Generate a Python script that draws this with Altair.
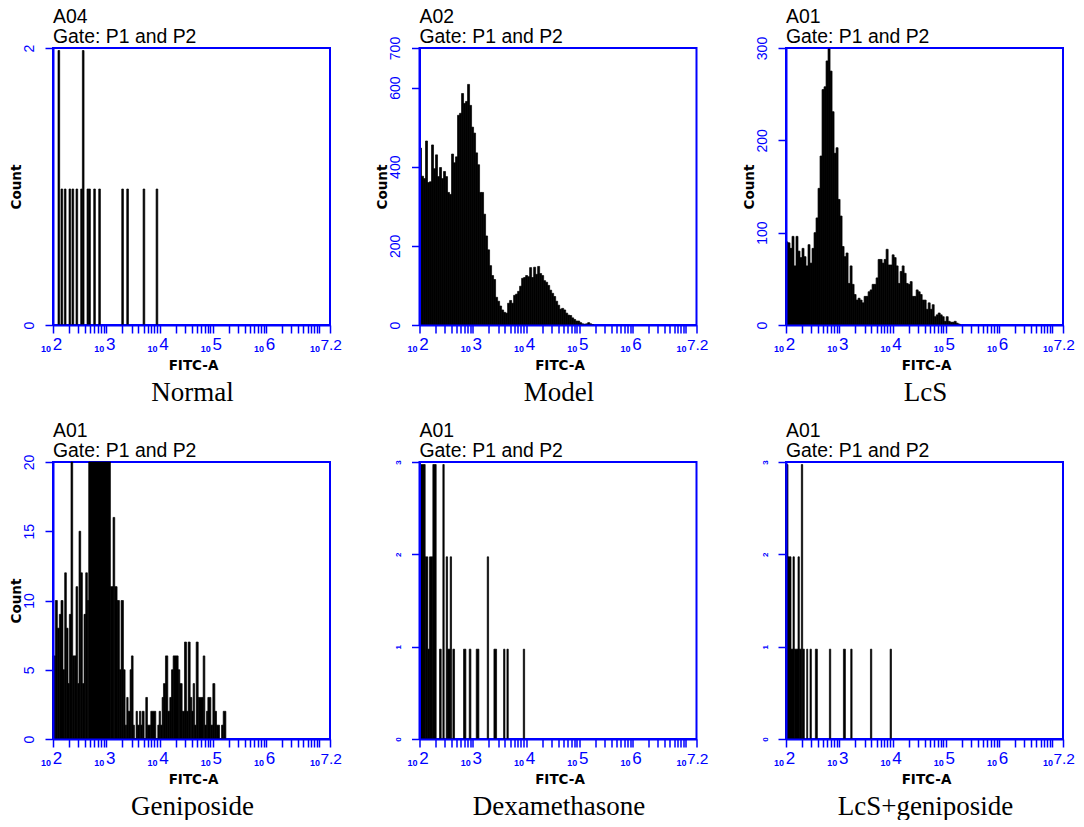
import altair as alt
import pandas as pd

BLUE = "#0000ff"
W = H = 277
SPAN = 830.0  # the channel scale the histograms were read on, 0..830 = 10^2..10^7.2

# Tick grid of the FITC-A axis
tick_mantissas = [1, 2, 3, 4, 5, 6, 7, 8, 9]
tick_decades = [2, 3, 4, 5, 6]
x_ticks = [m * 10 ** d for d in tick_decades for m in tick_mantissas] + [10 ** 7, 10 ** 7.2]
label_positions = [10 ** 2, 10 ** 3, 10 ** 4, 10 ** 5, 10 ** 6]
label_end = [10 ** 7.2]
label_end_text = ["7.2"]

# ---- Normal: (channel, count)
normal_ch = [15, 24, 34, 48, 57, 69, 83, 88, 102, 107, 122, 137, 206, 221, 270, 309]
normal_ct = [2, 1, 1, 1, 1, 1, 1, 2, 1, 1, 1, 1, 1, 1, 1, 1]

# ---- Model: consecutive bins, 6 channels wide
model_ct = [447, 376, 370, 465, 360, 362, 455, 395, 430, 375, 398, 370, 388, 375, 335, 330,
            432, 410, 425, 530, 535, 585, 560, 565, 608, 555, 500, 485, 435, 405, 335, 335,
            280, 225, 190, 150, 125, 115, 70, 60, 48, 38, 32, 30, 55, 62, 55, 75, 78, 85,
            98, 118, 120, 125, 122, 145, 120, 146, 128, 148, 130, 125, 112, 108, 100, 88,
            80, 72, 60, 50, 40, 42, 38, 30, 25, 24, 18, 14, 10, 10, 6, 3, 2, 3, 6, 3, 1]

# ---- LcS: consecutive bins, 6 channels wide
lcs_ct = [90, 89, 83, 96, 64, 96, 80, 73, 83, 74, 64, 87, 67, 83, 100, 116, 148, 183, 255,
          258, 286, 299, 275, 231, 186, 192, 136, 118, 85, 74, 78, 45, 64, 44, 33, 27, 29,
          27, 24, 31, 31, 36, 38, 44, 44, 51, 71, 71, 67, 71, 82, 65, 65, 76, 73, 64, 45,
          58, 64, 56, 45, 44, 47, 31, 31, 38, 36, 33, 27, 27, 17, 24, 17, 22, 9, 11, 13,
          11, 9, 4, 9, 4, 3, 3, 4, 2, 1]

# ---- Geniposide: bin start channels and counts
gen_ch = [0, 7, 13, 19, 24, 30, 35, 40, 45, 49, 54, 59, 65, 69, 74, 78, 83, 88, 93, 98, 103,
          107, 172, 180, 185, 192, 199, 204, 211, 216, 221, 225, 231, 235, 240, 244, 249,
          253, 259, 263, 267, 273, 278, 283, 293, 308, 314, 318, 322, 327, 331, 337, 344,
          350, 355, 360, 375, 380, 387, 394, 400, 405, 411, 416, 420, 424, 429, 435, 450,
          455, 460, 464, 473, 479, 485, 490, 499, 505, 510, 518]
gen_ct = [6, 10, 8, 9, 10, 5, 12, 8, 4, 9, 20, 6, 6, 11, 4, 15, 12, 4, 9, 12, 10,
          20, 11, 16, 11, 10, 5, 10, 5, 1, 3, 2, 5, 6, 1, 0, 2,
          1, 2, 1, 2, 0, 3, 1, 2, 0, 1, 2, 1, 3, 4, 6, 2,
          3, 5, 6, 5, 4, 2, 7, 2, 7, 3, 2, 4, 1, 7, 3, 6,
          1, 2, 3, 1, 4, 2, 1, 0, 1, 2, 0]

# ---- Dexamethasone: start, end, count
dex_start = [0, 17, 25, 30, 40, 60, 70, 80, 84, 92, 100, 132, 149, 170, 203, 223, 252, 262, 311]
dex_end = [17, 25, 30, 40, 50, 65, 74, 84, 92, 96, 105, 139, 154, 178, 207, 231, 256, 266, 315]
dex_ct = [3, 2, 1, 2, 3, 1, 3, 2, 1, 2, 1, 1, 1, 1, 2, 1, 1, 1, 1]

# ---- LcS+geniposide: start, end, count
combo_start = [0, 6, 15, 21, 25, 36, 40, 46, 50, 62, 72, 88, 130, 172, 194, 253, 312]
combo_end = [6, 15, 21, 25, 36, 40, 46, 50, 55, 65, 76, 94, 134, 178, 198, 257, 316]
combo_ct = [3, 2, 1, 2, 1, 2, 1, 3, 1, 1, 1, 1, 1, 1, 1, 1, 1]

wells = ["A04", "A02", "A01", "A01", "A01", "A01"]
gate = "Gate: P1 and P2"
captions = ["Normal", "Model", "LcS", "Geniposide", "Dexamethasone", "LcS+geniposide"]


def fitc(ch):
    return 10 ** (2 + 5.2 * ch / SPAN)


def table(start, end, count):
    return pd.DataFrame({
        "lo": [fitc(c) for c in start],
        "hi": [fitc(c) for c in end],
        "count": count,
        "zero": [0] * len(count),
    })


def panel(df, well, caption, y_max, y_ticks, sink=0.0, show_title=True, tiny=False):
    x_scale = alt.Scale(type="log", domain=[100, 10 ** 7.2], nice=False)
    y_scale = alt.Scale(domain=[0, y_max], nice=False)
    x_axis = alt.Axis(
        values=x_ticks, grid=False, zindex=1, title="FITC-A",
        titleX=W / 2 + 1.5, titleY=44, titleBaseline="alphabetic",
        titleFont="DejaVu Sans", titleFontSize=13.5, titleFontWeight="bold", titleColor="black",
        domainColor=BLUE, domainWidth=2, tickColor=BLUE, tickWidth=1.5, tickSize=8,
        labelColor=BLUE, labelFont="Liberation Sans", labelFontSize=17, labelPadding=3,
        labelOffset=4, labelFlush=False, labelOverlap=False, labelBound=False,
        labelExpr="(abs(log(datum.value)/LN10-round(log(datum.value)/LN10))<1e-6 && datum.value<5e6)"
                  " ? format(log(datum.value)/LN10,'d') : ''",
    )
    y_axis = alt.Axis(
        values=y_ticks, grid=False, zindex=1, format="d",
        title="Count" if show_title else None,
        titleX=-30, titleY=H / 2, titleAngle=-90, titleAlign="center",
        titleFont="DejaVu Sans", titleFontSize=13.5, titleFontWeight="bold", titleColor="black",
        domainColor=BLUE, domainWidth=2, tickColor=BLUE, tickWidth=1.5, tickSize=8,
        labelColor=BLUE, labelFont="Liberation Sans",
        labelFontSize=8 if tiny else 14, labelFontWeight="bold" if tiny else "normal",
        labelAngle=-90, labelPadding=9, labelOverlap=False, labelBound=False, labelFlush=False,
    )
    bars = alt.Chart(df).mark_rect(color="black", stroke="black", strokeWidth=0.7,
                                   yOffset=sink, y2Offset=0).encode(
        x=alt.X("lo:Q", scale=x_scale, axis=x_axis),
        x2="hi:Q",
        y=alt.Y("count:Q", scale=y_scale, axis=y_axis),
        y2="zero:Q",
    )

    def tick_text(positions, texts, dx, size, offset, weight="normal"):
        return alt.Chart(pd.DataFrame({"v": positions, "t": texts})).mark_text(
            color=BLUE, font="Liberation Sans", fontSize=size, fontWeight=weight, align="right", dx=dx,
            baseline="alphabetic",
        ).encode(x=alt.X("v:Q", scale=x_scale, axis=x_axis), y=alt.value(H + offset), text="t:N")

    tens = tick_text(label_positions, ["10"] * len(label_positions), -2, 9, 27, "bold")
    tens_last = tick_text(label_end, ["10"], -10, 9, 27, "bold")
    last = tick_text(label_end, label_end_text, 12, 15.5, 25)
    head = alt.Chart(pd.DataFrame({"t": [[well, gate]]})).mark_text(
        color="black", font="Liberation Sans", fontSize=19.4, align="left", baseline="alphabetic",
        lineHeight=20,
    ).encode(x=alt.value(0), y=alt.value(-25.5), text="t:N")
    cap = alt.Chart(pd.DataFrame({"t": [caption]})).mark_text(
        color="black", font="Liberation Serif", fontSize=27, align="center", baseline="alphabetic",
    ).encode(x=alt.value(W / 2 + 1), y=alt.value(H + 76), text="t:N")
    return alt.layer(bars, tens, tens_last, last, head, cap).properties(width=W, height=H)


def bins(counts):
    return table([i * 6 for i in range(len(counts))], [(i + 1) * 6 for i in range(len(counts))], counts)


charts = [
    panel(table(normal_ch, [c + 5 for c in normal_ch], normal_ct), wells[0], captions[0], 2, [0, 1, 2], sink=2.5),
    panel(bins(model_ct), wells[1], captions[1], 700, [0, 200, 400, 600, 700]),
    panel(bins(lcs_ct), wells[2], captions[2], 300, [0, 100, 200, 300]),
    panel(table(gen_ch[:-1], gen_ch[1:], gen_ct[:-1]), wells[3], captions[3], 20, [0, 5, 10, 15, 20]),
    panel(table(dex_start, dex_end, dex_ct), wells[4], captions[4], 3, [0, 1, 2, 3], sink=2.5,
          show_title=False, tiny=True),
    panel(table(combo_start, combo_end, combo_ct), wells[5], captions[5], 3, [0, 1, 2, 3], sink=2.5,
          show_title=False, tiny=True),
]

chart = alt.concat(*charts, columns=3, spacing=alt.RowColnumber(row=137, column=89.5)).properties(
    bounds="flush", padding={"left": 0, "top": -3, "right": 0, "bottom": -1}, background="white",
).configure_view(stroke=BLUE, strokeWidth=2)

chart.save("out.html", embed_options={"renderer": "svg", "actions": False})
